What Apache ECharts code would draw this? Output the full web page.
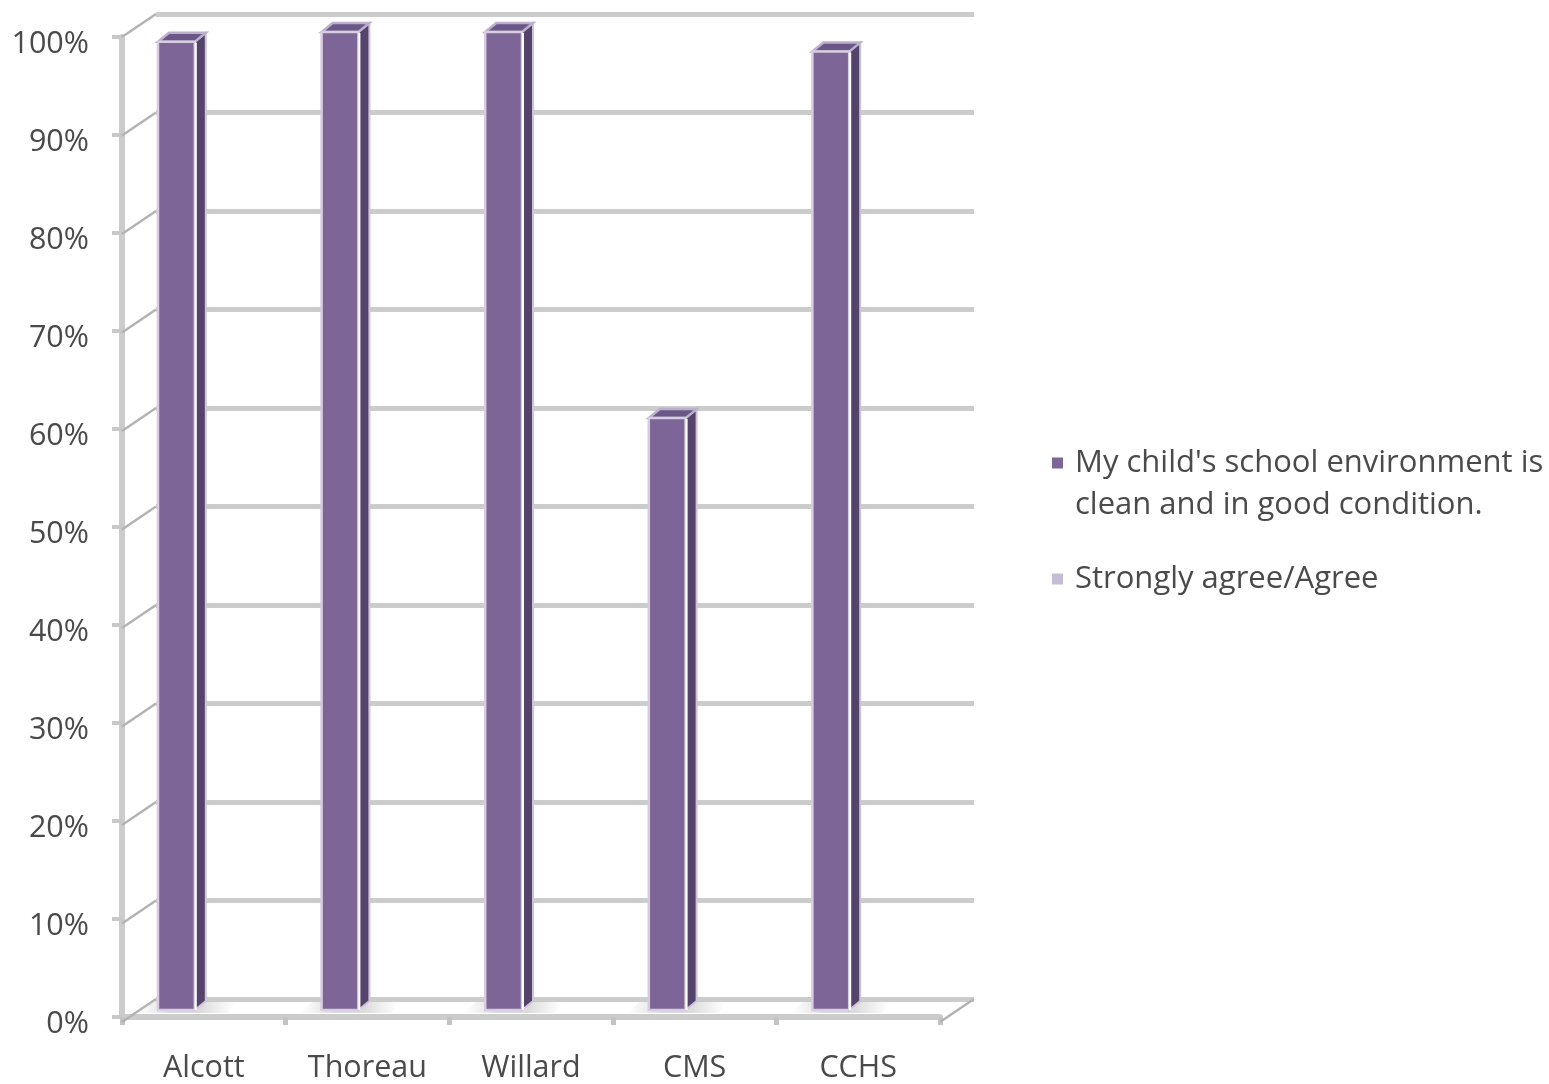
<!DOCTYPE html>
<html>
<head>
<meta charset="utf-8">
<script src="https://cdn.jsdelivr.net/npm/echarts@6/dist/echarts.min.js"></script>
<style>
  html, body { margin: 0; padding: 0; background: #ffffff; }
  #chart { width: 1549px; height: 1084px; }
</style>
</head>
<body>
<div id="chart"></div>
<script>
// ---- data ----
const categories = ['Alcott', 'Thoreau', 'Willard', 'CMS', 'CCHS'];
const values = [99, 100, 100, 60.6, 98];
const seriesNames = ['My child\'s school environment is\nclean and in good condition.', 'Strongly agree/Agree'];
const tickValues = [0, 10, 20, 30, 40, 50, 60, 70, 80, 90, 100];

// ---- style / layout constants ----
const FONT = '"Open Sans", "Noto Sans", sans-serif';
const TEXT = '#4a4a4a';
const GRID_C = '#cccccc';
const DEPTH_X = 34, DEPTH_Y = -23;   // wall depth offset
const BAR_DX = 11, BAR_DY = -9;      // bar depth offset

const chart = echarts.init(document.getElementById('chart'), null, { renderer: 'canvas' });

function renderBar(params, api) {
  const i = api.value(0), v = api.value(1);
  const top = api.coord([i, v]);
  const base = api.coord([i, 0]);
  const bw = api.size([1, 0])[0];
  const x0 = top[0] - bw * 0.28, x1 = top[0] - bw * 0.055;
  const yT = top[1] - 5, yB = base[1] - 7;
  const shade = new echarts.graphic.LinearGradient(0, 0, 1, 0, [
    { offset: 0, color: 'rgba(205,205,205,0)' },
    { offset: 0.35, color: 'rgba(190,190,190,0.55)' },
    { offset: 0.65, color: 'rgba(190,190,190,0.55)' },
    { offset: 1, color: 'rgba(205,205,205,0)' }]);
  return {
    type: 'group',
    children: [
      { type: 'polygon', shape: { points: [[x0 - 22, yB + 3], [x1 + BAR_DX + 22, yB + 3], [x1 + BAR_DX + 30, yB + BAR_DY], [x0 - 8, yB + BAR_DY]] },
        style: { fill: shade } },
      { type: 'polygon', shape: { points: [[x1, yT], [x1 + BAR_DX, yT + BAR_DY], [x1 + BAR_DX, yB + BAR_DY], [x1, yB]] },
        style: { fill: '#54446b', stroke: '#cdc4d9', lineWidth: 2 } },
      { type: 'polygon', shape: { points: [[x0, yT], [x1, yT], [x1 + BAR_DX, yT + BAR_DY], [x0 + BAR_DX, yT + BAR_DY]] },
        style: { fill: '#6a5788', stroke: '#bcafcb', lineWidth: 2.5 } },
      { type: 'rect', shape: { x: x0, y: yT, width: x1 - x0, height: yB - yT },
        style: { fill: '#7e6597', stroke: '#d6cee0', lineWidth: 2.5 } },
      { type: 'line', shape: { x1: x1 + 1, y1: yT + 1, x2: x1 + 1, y2: yB },
        style: { stroke: '#ffffff', lineWidth: 2 } }
    ]
  };
}

function renderDiag(params, api) {
  const v = api.value(1);
  const cs = params.coordSys;
  const y = api.coord([0, v])[1];
  const kids = [
    { type: 'line', shape: { x1: cs.x, y1: y, x2: cs.x - DEPTH_X, y2: y - DEPTH_Y },
      style: { stroke: '#b3b3b3', lineWidth: 2.5 } }
  ];
  if (v === 0) {
    kids.push({ type: 'line', shape: { x1: cs.x + cs.width, y1: y, x2: cs.x + cs.width - DEPTH_X, y2: y - DEPTH_Y },
      style: { stroke: '#b3b3b3', lineWidth: 2.5 } });
  }
  return { type: 'group', children: kids };
}

const option = {
  backgroundColor: '#ffffff',
  animation: false,
  textStyle: { fontFamily: FONT },
  legend: {
    orient: 'vertical',
    left: 1047,
    top: 395,
    icon: 'rect',
    itemWidth: 11,
    itemHeight: 11,
    itemGap: 32,
    selectedMode: false,
    formatter: function (name) { return name === seriesNames[0] ? '\n' + name : name; },
    textStyle: { fontFamily: FONT, fontSize: 31, color: TEXT, lineHeight: 42, padding: [0, 0, 0, 7] },
    data: [seriesNames[0], seriesNames[1]]
  },
  grid: [
    { left: 122, top: 37, width: 818, height: 985 },
    { left: 156, top: 14, width: 818, height: 985 }
  ],
  xAxis: [
    { type: 'category', gridIndex: 0, data: categories,
      axisLine: { show: true, lineStyle: { color: GRID_C, width: 6 } },
      axisTick: { show: true, length: 8, lineStyle: { color: '#c4c4c4', width: 5 } },
      axisLabel: { fontFamily: FONT, fontSize: 30.5, color: TEXT, margin: 36 },
      splitLine: { show: false } },
    { type: 'category', gridIndex: 1, data: categories, show: false }
  ],
  yAxis: [
    { type: 'value', gridIndex: 0, min: 0, max: 100, interval: 10,
      axisLine: { show: true, lineStyle: { color: GRID_C, width: 6 } },
      axisTick: { show: true, length: 10, lineStyle: { color: '#c8c8c8', width: 4 } },
      axisLabel: { fontFamily: FONT, fontSize: 30.5, color: TEXT, margin: 33,
        formatter: function (val) { return '{p|' + val + '%}'; },
        rich: { p: { fontFamily: FONT, fontSize: 30.5, color: TEXT, padding: [14, 0, 0, 0] } } },
      splitLine: { show: false } },
    { type: 'value', gridIndex: 1, min: 0, max: 100, interval: 10,
      axisLine: { show: false }, axisTick: { show: false }, axisLabel: { show: false },
      splitLine: { show: true, lineStyle: { color: GRID_C, width: 5 } } }
  ],
  series: [
    { name: 'diag', type: 'custom', xAxisIndex: 1, yAxisIndex: 1, renderItem: renderDiag,
      data: tickValues.map(v => [0, v]), encode: { x: 0, y: 1 }, clip: false, silent: true, z: 1 },
    { name: seriesNames[0], type: 'custom', xAxisIndex: 0, yAxisIndex: 0, renderItem: renderBar,
      itemStyle: { color: '#7e6597' },
      data: categories.map((c, i) => [i, values[i]]), encode: { x: 0, y: 1 }, clip: false, z: 5 },
    { name: seriesNames[1], type: 'custom', xAxisIndex: 0, yAxisIndex: 0, renderItem: renderBar,
      itemStyle: { color: '#c6bcd7' }, data: [], z: 5 }
  ]
};
chart.setOption(option);
</script>
</body>
</html>
